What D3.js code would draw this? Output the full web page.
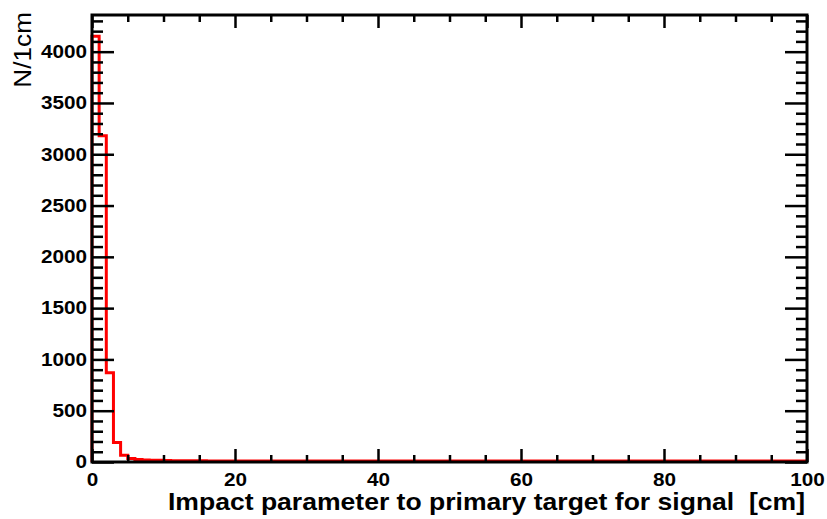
<!DOCTYPE html>
<html>
<head>
<meta charset="utf-8">
<script src="https://cdn.jsdelivr.net/npm/d3@7"></script>
<style>
  html, body { margin: 0; padding: 0; background: #fff; }
  svg { display: block; }
</style>
</head>
<body>
<svg id="chart" width="827" height="519"></svg>
<script>
// ---- data ----
const binEdgesStart = 0;        // cm
const binWidth = 1;             // cm
const binCounts = [4150, 3180, 870, 190, 65, 35, 25, 20, 18, 16,
  14, 13, 12, 12, 11, 11, 10, 10, 10, 10,
  9, 9, 9, 9, 9, 9, 9, 9, 9, 9,
  9, 9, 9, 9, 9, 9, 9, 9, 9, 9,
  9, 9, 9, 9, 9, 9, 9, 9, 9, 9,
  9, 9, 9, 9, 9, 9, 9, 9, 9, 9,
  9, 9, 9, 9, 9, 9, 9, 9, 9, 9,
  9, 9, 9, 9, 9, 9, 9, 9, 9, 9,
  9, 9, 9, 9, 9, 9, 9, 9, 9, 9,
  9, 9, 9, 9, 9, 9, 9, 9, 9, 9];
const xMajorTicks = [0, 20, 40, 60, 80, 100];
const yMajorTicks = [0, 500, 1000, 1500, 2000, 2500, 3000, 3500, 4000];
const xDomain = [0, 100];
const yDomain = [0, 4357.5];
const xTitle = "Impact parameter to primary target for signal  [cm]";
const yTitle = "N/1cm";

// ---- layout ----
const FONT = "Arial, 'Liberation Sans', Helvetica, sans-serif";
const L = 92, R = 807, T = 15, B = 462;
const STRETCH = 1.15;
const svg = d3.select("#chart");
const x = d3.scaleLinear().domain(xDomain).range([L, R]);
const y = d3.scaleLinear().domain(yDomain).range([B, T]);

const xMinor = d3.range(0, 100.001, 5).filter(v => !xMajorTicks.includes(v));
const yMinor = d3.range(0, 4357, 100).filter(v => !yMajorTicks.includes(v));

// histogram path
const pts = [];
binCounts.forEach((c, i) => {
  const x0 = binEdgesStart + i * binWidth;
  pts.push([x(x0), y(c)]);
  pts.push([x(x0 + binWidth), y(c)]);
});
const line = d3.line();
const histPath = [[x(0), y(0)], ...pts];

function stretch(sel, k) {
  sel.each(function() {
    const len = this.getComputedTextLength();
    if (len > 0) {
      d3.select(this).attr("textLength", len * k).attr("lengthAdjust", "spacingAndGlyphs");
    }
  });
}

function styleAxis(g) {
  g.attr("font-family", FONT).attr("font-size", 18).attr("font-weight", "bold");
  g.selectAll(".domain").remove();
  g.selectAll(".tick line").attr("stroke", "#000").attr("stroke-width", 2.5);
  g.selectAll(".tick text").attr("fill", "#000").call(stretch, STRETCH);
}

// histogram
svg.append("path")
  .attr("d", line(histPath))
  .attr("fill", "none")
  .attr("stroke", "#ff0000")
  .attr("stroke-width", 3)
  .attr("stroke-linejoin", "miter");

// left axis
svg.append("g").attr("transform", `translate(${L},0)`)
  .call(d3.axisLeft(y).tickValues(yMajorTicks).tickSize(-22).tickPadding(5).tickFormat(d3.format("d")))
  .call(styleAxis);
svg.append("g").attr("transform", `translate(${L},0)`)
  .call(d3.axisLeft(y).tickValues(yMinor).tickSize(-11).tickFormat(""))
  .call(styleAxis);
// right axis
svg.append("g").attr("transform", `translate(${R},0)`)
  .call(d3.axisRight(y).tickValues(yMajorTicks).tickSize(-22).tickFormat(""))
  .call(styleAxis);
svg.append("g").attr("transform", `translate(${R},0)`)
  .call(d3.axisRight(y).tickValues(yMinor).tickSize(-11).tickFormat(""))
  .call(styleAxis);
// bottom axis
svg.append("g").attr("transform", `translate(0,${B})`)
  .call(d3.axisBottom(x).tickValues(xMajorTicks).tickSize(-13).tickPadding(11).tickFormat(d3.format("d")))
  .call(styleAxis);
svg.append("g").attr("transform", `translate(0,${B})`)
  .call(d3.axisBottom(x).tickValues(xMinor).tickSize(-7).tickFormat(""))
  .call(styleAxis);
// top axis
svg.append("g").attr("transform", `translate(0,${T})`)
  .call(d3.axisTop(x).tickValues(xMajorTicks).tickSize(-13).tickFormat(""))
  .call(styleAxis);
svg.append("g").attr("transform", `translate(0,${T})`)
  .call(d3.axisTop(x).tickValues(xMinor).tickSize(-7).tickFormat(""))
  .call(styleAxis);

// frame
svg.append("rect")
  .attr("x", L).attr("y", T).attr("width", R - L).attr("height", B - T)
  .attr("fill", "none").attr("stroke", "#000").attr("stroke-width", 3);

// titles
const xt = svg.append("text")
  .attr("x", R - 2).attr("y", 510)
  .attr("text-anchor", "end")
  .attr("font-family", FONT)
  .attr("font-weight", "bold").attr("font-size", 24)
  .attr("xml:space", "preserve")
  .style("white-space", "pre")
  .text(xTitle);
xt.attr("textLength", 637).attr("lengthAdjust", "spacingAndGlyphs");

svg.append("text")
  .attr("transform", `translate(31,12) rotate(-90)`)
  .attr("text-anchor", "end")
  .attr("font-family", FONT)
  .attr("font-size", 23)
  .text(yTitle)
  .call(stretch, 1.14);
</script>
</body>
</html>
